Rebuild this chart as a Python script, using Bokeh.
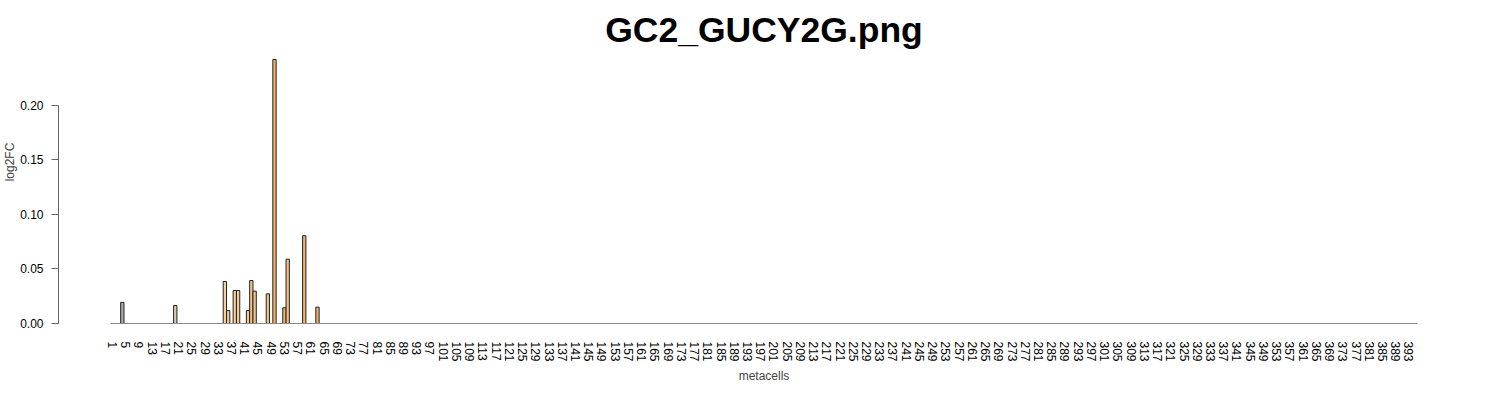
from bokeh.plotting import figure
from bokeh.models import (ColumnDataSource, FixedTicker, PrintfTickFormatter,
                          Label, Range1d)
from bokeh.embed import file_html
from bokeh.resources import INLINE

# ---- data ----
n_metacells = 395
bar_ids = [4, 20, 35, 36, 38, 39, 42, 43, 44, 48, 50, 53, 54, 59, 63]
log2fc = [0.0194, 0.0165, 0.0385, 0.0119, 0.0303, 0.0303, 0.0119, 0.0394,
          0.0297, 0.0272, 0.2422, 0.0144, 0.0590, 0.0805, 0.0150]
bar_colors = ["#a9a9a9", "#dacab2", "#f2d0a0", "#f0c992", "#f2cd99", "#f2cd99",
              "#f1c891", "#f1c68e", "#efc48b", "#f0c082", "#f4b468", "#efb873",
              "#f2c080", "#f1b46a", "#ebb06d"]
x_tick_values = list(range(1, n_metacells, 4))   # 1, 5, ..., 393
y_tick_values = [0.0, 0.05, 0.10, 0.15, 0.20]
title_text = "GC2_GUCY2G.png"
y_label_text = "log2FC"
x_label_text = "metacells"

FONT = "Liberation Sans"

src = ColumnDataSource(dict(x=bar_ids, top=log2fc, color=bar_colors))

p = figure(frame_width=1411, frame_height=323, output_backend="svg",
           toolbar_location=None,
           x_range=Range1d(-15.3, 411.3), y_range=Range1d(0, 0.2963),
           min_border_left=51, min_border_right=22, min_border_top=0,
           min_border_bottom=60)
p.outline_line_color = None
p.xgrid.visible = False
p.ygrid.visible = False
p.background_fill_color = "white"

p.vbar(x="x", top="top", bottom=0, width=1.0, source=src,
       fill_color="color", line_color="#222222", line_width=1)

# x axis
xa = p.xaxis[0]
xa.ticker = FixedTicker(ticks=x_tick_values)
xa.bounds = (0.5, n_metacells + 0.5)
xa.axis_line_color = "#8a8a8a"
xa.major_tick_line_color = None
xa.minor_tick_line_color = None
xa.major_tick_out = 0
xa.major_tick_in = 0
xa.major_label_orientation = "vertical"
xa.major_label_standoff = 18
xa.major_label_text_font = FONT
xa.major_label_text_font_size = "12px"
xa.major_label_text_color = "black"
xa.axis_label = x_label_text
xa.axis_label_text_font = FONT
xa.axis_label_text_font_size = "12px"
xa.axis_label_text_font_style = "normal"
xa.axis_label_standoff = 4

# y axis
ya = p.yaxis[0]
ya.ticker = FixedTicker(ticks=y_tick_values)
ya.formatter = PrintfTickFormatter(format="%.2f")
ya.bounds = (0, 0.2)
ya.axis_line_color = "#666666"
ya.major_tick_line_color = "#666666"
ya.minor_tick_line_color = None
ya.major_tick_out = 7
ya.major_tick_in = 0
ya.major_label_standoff = 8
ya.major_label_orientation = "horizontal"
ya.major_label_text_font = FONT
ya.major_label_text_font_size = "12px"
ya.major_label_text_color = "black"
ya.axis_label = y_label_text
ya.axis_label_text_font = FONT
ya.axis_label_text_font_size = "12px"
ya.axis_label_text_font_style = "normal"
ya.axis_label_text_align = "right"
ya.axis_label_standoff = 0

title = Label(x=198, y=0.2688, text=title_text, text_align="center",
              text_baseline="alphabetic", text_font=FONT,
              text_font_size="35.5px", text_font_style="bold", text_color="black")
p.add_layout(title)

open("out.html", "w").write(file_html(p, INLINE))
